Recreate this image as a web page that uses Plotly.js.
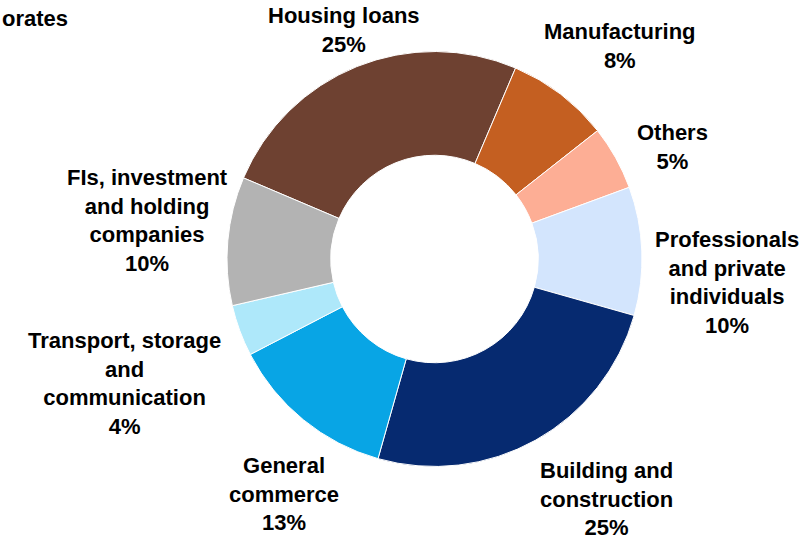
<!DOCTYPE html>
<html>
<head>
<meta charset="utf-8">
<script src="https://cdn.plot.ly/plotly-3.0.1.min.js"></script>
<style>html,body{margin:0;padding:0;background:#fff;}#chart{width:811px;height:539px;}</style>
</head>
<body>
<div id="chart"></div>
<script>
// ---- data ----
const categories = [
  "Housing loans",
  "Manufacturing",
  "Others",
  "Professionals<br>and private<br>individuals",
  "Building and<br>construction",
  "General<br>commerce",
  "Transport, storage<br>and<br>communication",
  "FIs, investment<br>and holding<br>companies"
];
const shares = [25, 8, 5, 10, 25, 13, 4, 10];
const headerText = "orates";

// ---- styling / layout ----
const colors = ["#6E4131", "#C45F21", "#FDAE95", "#D3E5FD", "#062A70", "#08A5E5", "#AEE8FA", "#B3B3B3"];
// label block centres in pixels (layout placement of the outside labels)
const labelPlacement = [
  [344, 30], [620, 46], [672, 147], [727, 282],
  [606, 499], [284, 494], [124, 383], [147, 221]
];
const W = 811, H = 539;
const FONT = "Liberation Sans, Arial, sans-serif";
const LABEL_SIZE = 22;

const trace = {
  type: "pie",
  labels: categories,
  values: shares,
  sort: false,
  direction: "clockwise",
  rotation: -67,
  hole: 0.5,
  marker: { colors: colors, line: { color: "#ffffff", width: 1 } },
  textinfo: "none",
  domain: { x: [0.2799, 0.7916], y: [0.1345, 0.9045] },
  showlegend: false,
  hoverinfo: "label+percent"
};

const annotations = categories.map((lab, i) => ({
  text: "<b>" + lab + "<br>" + shares[i] + "%</b>",
  xref: "paper", yref: "paper",
  x: labelPlacement[i][0] / W,
  y: 1 - labelPlacement[i][1] / H,
  xanchor: "center", yanchor: "middle",
  align: "center",
  showarrow: false,
  font: { family: FONT, size: LABEL_SIZE, color: "#000000" }
}));

annotations.push({
  text: "<b>" + headerText + "</b>",
  xref: "paper", yref: "paper",
  x: 0, y: 1 - 19 / H,
  xanchor: "left", yanchor: "middle",
  showarrow: false,
  font: { family: FONT, size: 22, color: "#000000" }
});

const layout = {
  width: W,
  height: H,
  margin: { l: 0, r: 0, t: 0, b: 0 },
  paper_bgcolor: "#ffffff",
  showlegend: false,
  font: { family: FONT, color: "#000000" },
  annotations: annotations
};

Plotly.newPlot("chart", [trace], layout, { displayModeBar: false, staticPlot: true });
</script>
</body>
</html>
